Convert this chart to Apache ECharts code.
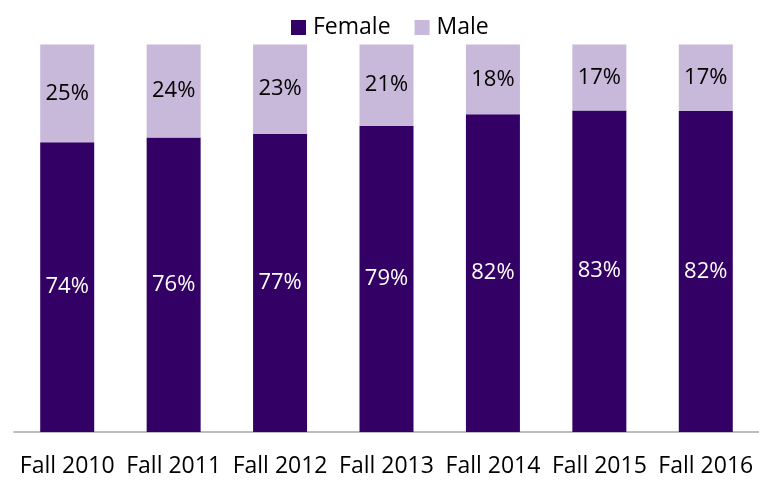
<!DOCTYPE html>
<html>
<head>
<meta charset="utf-8">
<script src="https://cdn.jsdelivr.net/npm/echarts@6/dist/echarts.min.js"></script>
<style>
  html, body { margin: 0; padding: 0; background: #fff; }
  #chart { width: 759px; height: 480px; }
</style>
</head>
<body>
<div id="chart"></div>
<script>
// values as printed on the bars
let terms = ['Fall 2010', 'Fall 2011', 'Fall 2012', 'Fall 2013', 'Fall 2014', 'Fall 2015', 'Fall 2016'];
let female = [74, 76, 77, 79, 82, 83, 82];
let male = [25, 24, 23, 21, 18, 17, 17];

let font = 'Open Sans';

// 100% stacked: every bar is scaled to its own total
function share(vals, i) {
  return vals[i] / (female[i] + male[i]);
}

let chart = echarts.init(document.getElementById('chart'), null, { renderer: 'canvas' });

let option = {
  animation: false,
  textStyle: { fontFamily: font },
  legend: {
    data: ['Female', 'Male'],
    left: 286,
    top: 11,
    icon: 'rect',
    itemWidth: 15,
    itemHeight: 15,
    itemGap: 24,
    textStyle: { fontSize: 23, color: '#000', fontFamily: font, padding: [0, 0, 0, 2] }
  },
  grid: {
    left: 14,
    right: 0,
    top: 44.5,
    bottom: 48
  },
  xAxis: {
    type: 'category',
    data: terms,
    axisLine: { show: true, lineStyle: { color: '#a6a6a6', width: 1.5 } },
    axisTick: { show: false },
    axisLabel: { fontSize: 23, color: '#000', margin: 23, fontFamily: font, interval: 0 }
  },
  yAxis: {
    type: 'value',
    min: 0,
    max: 1,
    show: false,
    splitLine: { show: false }
  },
  series: [{
    name: 'Female',
    type: 'bar',
    stack: 'all',
    barWidth: 54,
    itemStyle: { color: '#330066' },
    data: female.map((v, i) => share(female, i)),
    label: {
      show: true,
      position: 'inside',
      color: '#fff',
      fontSize: 22,
      fontFamily: font,
      formatter: p => female[p.dataIndex] + '%'
    }
  }, {
    name: 'Male',
    type: 'bar',
    stack: 'all',
    barWidth: 54,
    itemStyle: { color: '#c8b8da' },
    data: male.map((v, i) => share(male, i)),
    label: {
      show: true,
      position: 'inside',
      color: '#000',
      fontSize: 22,
      fontFamily: font,
      formatter: p => male[p.dataIndex] + '%'
    }
  }]
};

chart.setOption(option);
</script>
</body>
</html>
